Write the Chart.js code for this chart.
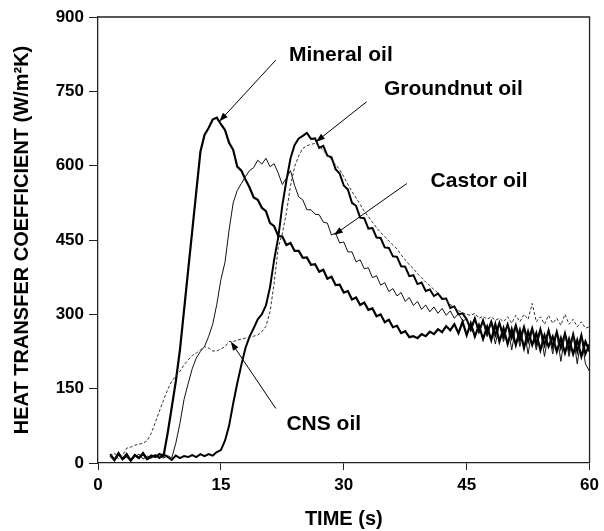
<!DOCTYPE html>
<html>
<head>
<meta charset="utf-8">
<script src="https://cdn.jsdelivr.net/npm/chart.js@4/dist/chart.umd.min.js"></script>
<style>
  html, body { margin: 0; padding: 0; background: #fff; }
  #wrap { width: 604px; height: 531px; }
</style>
</head>
<body>
<div id="wrap"><canvas id="c" width="604" height="531"></canvas></div>
<script>
// ---- data ----
const times = [1.5,2,2.5,3,3.5,4,4.5,5,5.5,6,6.5,7,7.5,8,8.5,9,9.5,10,10.5,11,11.5,12,12.5,13,13.5,14,14.5,15,15.5,16,16.5,17,17.5,18,18.5,19,19.5,20,20.5,21,21.5,22,22.5,23,23.5,24,24.5,25,25.5,26,26.5,27,27.5,28,28.5,29,29.5,30,30.5,31,31.5,32,32.5,33,33.5,34,34.5,35,35.5,36,36.5,37,37.5,38,38.5,39,39.5,40,40.5,41,41.5,42,42.5,43,43.5,44,44.5,45,45.5,46,46.5,47,47.5,48,48.5,49,49.5,50,50.5,51,51.5,52,52.5,53,53.5,54,54.5,55,55.5,56,56.5,57,57.5,58,58.5,59,59.5,60];

const mineralOil = [18,6,20,8,18,5,16,10,20,8,15,12,18,14,60,112,165,228,308,388,468,548,628,662,676,693,697,684,672,646,632,598,590,572,556,536,531,515,508,484,478,458,457,440,444,428,428,414,415,400,401,386,390,372,376,359,360,344,347,330,334,319,324,309,312,296,300,284,289,274,277,262,266,254,256,252,260,256,265,260,270,264,276,268,280,262,285,258,282,255,278,250,275,248,280,245,272,240,270,238,268,232,265,238,262,228,258,235,255,225,252,222,250,220,248,215,245,225];

const groundnutOil = [15,6,18,8,14,5,16,10,18,8,12,16,10,18,12,6,15,10,14,12,16,12,18,14,18,15,22,26,45,75,120,161,198,232,255,272,290,300,318,355,410,455,520,570,615,642,655,660,666,654,655,636,640,620,617,593,584,560,552,525,519,495,494,473,474,455,454,435,434,417,416,397,396,377,379,361,364,347,350,337,342,331,332,313,316,300,302,290,270,292,265,288,262,285,258,283,255,280,252,278,248,275,245,272,240,270,238,268,235,265,232,262,228,260,225,258,220,240];

const castorOil = [14,6,18,10,16,5,12,18,8,14,10,16,12,10,15,10,40,80,128,160,190,212,225,235,255,280,320,370,405,470,525,550,564,578,590,596,611,603,615,598,604,585,562,575,590,560,537,531,511,511,502,501,486,484,460,464,444,446,426,426,406,410,392,394,374,378,359,364,346,352,337,344,326,334,318,326,310,319,305,315,302,312,298,307,292,302,287,290,265,288,262,285,255,283,240,280,245,278,228,275,235,272,220,270,228,268,215,265,220,262,205,260,215,258,200,255,200,185];

const cnsOil = [12,20,8,15,30,32,36,38,40,45,60,82,105,127,148,165,176,185,198,208,217,222,228,235,232,226,226,230,235,245,245,248,250,252,253,256,258,265,276,305,363,435,463,505,560,598,620,635,640,643,645,640,630,622,612,602,592,578,562,548,535,522,508,497,486,475,465,457,448,440,432,420,410,400,392,382,374,365,358,350,343,335,328,320,314,308,303,300,298,302,292,296,290,295,288,292,285,295,282,298,285,300,290,322,285,295,280,298,282,292,278,300,280,290,275,285,272,275];

const xTicks = [0, 15, 30, 45, 60];
const yTicks = [0, 150, 300, 450, 600, 750, 900];

// annotation labels and arrows (data coordinates)
const labelNames = ['Mineral oil', 'Groundnut oil', 'Castor oil', 'CNS oil'];
const labelAt = [[23.3, 823], [34.9, 755], [40.6, 569], [23.0, 79]];
const arrowFrom = [[21.7, 813], [32.8, 729], [37.7, 564], [21.7, 110]];
const arrowTo = [[14.8, 689], [26.6, 648], [28.8, 460], [16.2, 245]];

// ---- chart ----
const FONT = '"Liberation Sans", Arial, Helvetica, sans-serif';
const pts = v => times.map((t, i) => ({ x: t, y: v[i] }));

const framePlugin = {
  id: 'frame',
  afterDatasetsDraw(chart) {
    const { ctx, chartArea: a, scales } = chart;
    ctx.save();
    ctx.strokeStyle = '#222';
    ctx.lineWidth = 1.3;
    ctx.beginPath();
    ctx.moveTo(a.left, a.top);
    ctx.lineTo(a.right, a.top);
    ctx.lineTo(a.right, a.bottom);
    ctx.stroke();

    // annotations
    ctx.fillStyle = '#000';
    ctx.strokeStyle = '#000';
    ctx.lineWidth = 1;
    ctx.font = 'bold 21px ' + FONT;
    ctx.textAlign = 'left';
    ctx.textBaseline = 'middle';
    labelNames.forEach((name, i) => {
      ctx.fillText(name, scales.x.getPixelForValue(labelAt[i][0]), scales.y.getPixelForValue(labelAt[i][1]));
      const x1 = scales.x.getPixelForValue(arrowFrom[i][0]);
      const y1 = scales.y.getPixelForValue(arrowFrom[i][1]);
      const x2 = scales.x.getPixelForValue(arrowTo[i][0]);
      const y2 = scales.y.getPixelForValue(arrowTo[i][1]);
      const ang = Math.atan2(y2 - y1, x2 - x1);
      const L = 9, W = 3.2;
      ctx.beginPath();
      ctx.moveTo(x1, y1);
      ctx.lineTo(x2 - L * 0.8 * Math.cos(ang), y2 - L * 0.8 * Math.sin(ang));
      ctx.stroke();
      ctx.beginPath();
      ctx.moveTo(x2, y2);
      ctx.lineTo(x2 - L * Math.cos(ang) + W * Math.sin(ang), y2 - L * Math.sin(ang) - W * Math.cos(ang));
      ctx.lineTo(x2 - L * Math.cos(ang) - W * Math.sin(ang), y2 - L * Math.sin(ang) + W * Math.cos(ang));
      ctx.closePath();
      ctx.fill();
    });
    ctx.restore();
  }
};

new Chart(document.getElementById('c'), {
  type: 'line',
  data: {
    datasets: [
      { label: 'CNS oil', data: pts(cnsOil), borderColor: '#333', borderWidth: 1, borderDash: [3, 2] },
      { label: 'Castor oil', data: pts(castorOil), borderColor: '#111', borderWidth: 1 },
      { label: 'Groundnut oil', data: pts(groundnutOil), borderColor: '#000', borderWidth: 2 },
      { label: 'Mineral oil', data: pts(mineralOil), borderColor: '#000', borderWidth: 2.2 }
    ]
  },
  options: {
    responsive: false,
    animation: false,
    devicePixelRatio: 1,
    layout: { padding: { left: 0, top: 17, right: 12, bottom: 0 } },
    elements: { point: { radius: 0 }, line: { tension: 0, fill: false } },
    plugins: { legend: { display: false }, tooltip: { enabled: false } },
    scales: {
      x: {
        type: 'linear', min: 0, max: 60,
        afterFit: s => { s.height = 68; },
        afterBuildTicks: s => { s.ticks = xTicks.map(v => ({ value: v })); },
        ticks: { color: '#000', font: { family: FONT, size: 17, weight: 'bold' }, padding: 5, maxRotation: 0 },
        grid: { drawOnChartArea: false, drawTicks: true, tickLength: 7, color: '#222', lineWidth: 1 },
        border: { display: true, color: '#222', width: 1.3 },
        title: { display: true, text: 'TIME (s)', color: '#000', font: { family: FONT, size: 20, weight: 'bold' }, padding: { top: 0, bottom: 0 } }
      },
      y: {
        type: 'linear', min: 0, max: 900,
        afterFit: s => { s.width = 98; },
        afterBuildTicks: s => { s.ticks = yTicks.map(v => ({ value: v })); },
        ticks: { color: '#000', font: { family: FONT, size: 17, weight: 'bold' }, padding: 5 },
        grid: { drawOnChartArea: false, drawTicks: true, tickLength: 9, color: '#222', lineWidth: 1 },
        border: { display: true, color: '#222', width: 1.3 },
        title: { display: true, text: 'HEAT TRANSFER COEFFICIENT (W/m\u00B2K)', color: '#000', font: { family: FONT, size: 20, weight: 'bold' }, padding: { top: 10, bottom: 0 } }
      }
    }
  },
  plugins: [framePlugin]
});
</script>
</body>
</html>
